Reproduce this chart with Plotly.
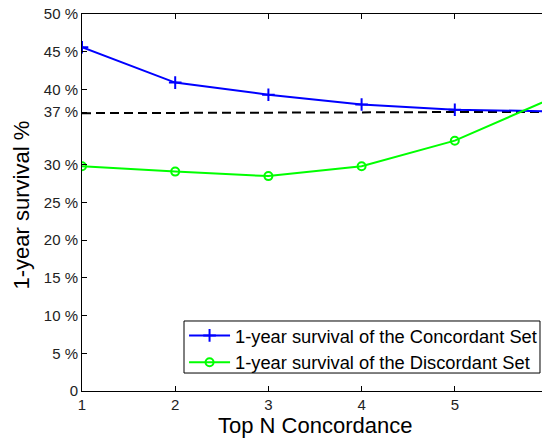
import plotly.graph_objects as go

top_n = [1, 2, 3, 4, 5, 6]
concordant = [45.6, 40.9, 39.3, 38.0, 37.3, 37.1]
discordant = [29.8, 29.1, 28.5, 29.8, 33.2, 38.6]
baseline = [36.85, 36.85, 36.85, 36.95, 37.0, 37.0]

y_ticks = [0, 5, 10, 15, 20, 25, 30, 37, 40, 45, 50]
y_labels = ["0", "5 %", "10 %", "15 %", "20 %", "25 %", "30 %", "37 %", "40 %", "45 %", "50 %"]
x_ticks = [1, 2, 3, 4, 5, 6]

x_title = "Top N Concordance"
y_title = "1-year survival %"

font_family = "Liberation Sans, Arial, sans-serif"

fig = go.Figure()
fig.add_trace(go.Scatter(
    x=top_n, y=baseline, mode="lines",
    line=dict(color="black", width=2, dash="9px,5px"),
    showlegend=False, hoverinfo="skip"))
fig.add_trace(go.Scatter(
    x=top_n, y=concordant, mode="lines+markers",
    name="1-year survival of the Concordant Set",
    line=dict(color="#0000ff", width=2),
    marker=dict(symbol="cross-thin", size=9, line=dict(color="#0000ff", width=2))))
fig.add_trace(go.Scatter(
    x=top_n, y=discordant, mode="lines+markers",
    name="1-year survival of the Discordant Set",
    line=dict(color="#00ff00", width=2),
    marker=dict(symbol="circle-open", size=8, line=dict(color="#00ff00", width=2))))

axis_common = dict(
    showline=True, linecolor="black", linewidth=1, mirror="ticks",
    ticks="inside", ticklen=5, tickcolor="black", showgrid=False, zeroline=False,
    ticklabeloverflow="allow",
    tickfont=dict(family=font_family, size=15, color="#222"))

fig.update_xaxes(range=[1, 6], tickvals=x_ticks, **axis_common)
fig.update_yaxes(range=[0, 50], tickvals=y_ticks, ticktext=y_labels, **axis_common)

fig.add_annotation(text=x_title, xref="paper", yref="paper", x=0.5, y=0,
                   xanchor="center", yanchor="middle", yshift=-34.5, showarrow=False,
                   font=dict(family=font_family, size=22, color="black"))
fig.add_annotation(text=y_title, xref="paper", yref="paper", x=0, y=0.5,
                   xanchor="center", yanchor="middle", xshift=-61.5, yshift=-2.5,
                   textangle=-90, showarrow=False,
                   font=dict(family=font_family, size=22, color="black"))

# legend frame (drawn as a box behind the legend entries)
fig.add_shape(type="rect", xref="paper", yref="paper",
              x0=0.2189, x1=0.9828, y0=0.0477, y1=0.1857,
              line=dict(color="black", width=1), fillcolor="white", layer="above")

fig.update_layout(
    width=542, height=430,
    margin=dict(l=74, r=2, t=6, b=47, autoexpand=False),
    paper_bgcolor="white", plot_bgcolor="white",
    legend=dict(x=0.219, y=0.1963, xanchor="left", yanchor="top",
                bgcolor="rgba(0,0,0,0)", borderwidth=0,
                font=dict(family=font_family, size=18.3, color="black"),
                tracegroupgap=0, itemwidth=41),
)

fig.write_html("out.html")
